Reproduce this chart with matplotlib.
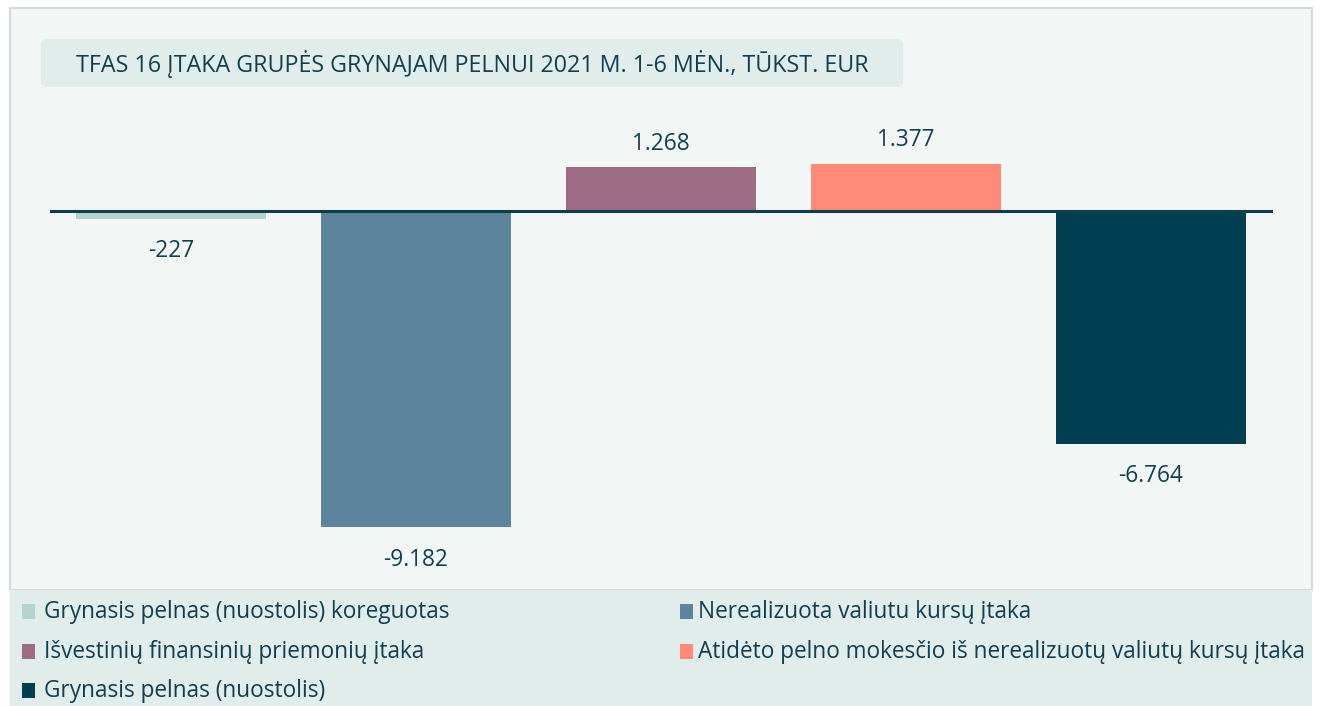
import matplotlib.pyplot as plt
from matplotlib.patches import Rectangle, FancyBboxPatch

# === Data ===
categories = [
    "Grynasis pelnas (nuostolis) koreguotas",
    "Nerealizuota valiutu kursų įtaka",
    "Išvestinių finansinių priemonių įtaka",
    "Atidėto pelno mokesčio iš nerealizuotų valiutų kursų įtaka",
    "Grynasis pelnas (nuostolis)",
]
values = [-227, -9182, 1268, 1377, -6764]
colors = ["#b2d4cc", "#5d849d", "#9e6c84", "#ff8a77", "#003f51"]
title = "TFAS 16 ĮTAKA GRUPĖS GRYNAJAM PELNUI 2021 M. 1-6 MĖN., TŪKST. EUR"

W, H = 1323, 706
txt_color = "#113f52"
plt.rcParams['font.family'] = ['Open Sans', 'DejaVu Sans']

fig = plt.figure(figsize=(W / 100, H / 100), dpi=100)
fig.patch.set_facecolor("white")


def fx(px):
    return px / W


def fy(py):
    return 1 - py / H


# === Panel backgrounds ===
fig.patches.append(Rectangle((fx(10), fy(590)), fx(1302), (590 - 8) / H,
                             transform=fig.transFigure, facecolor="#f2f6f5",
                             edgecolor="#d8d8d8", lw=1.5, zorder=-2))
fig.patches.append(Rectangle((fx(10), 0), fx(1302), (H - 590) / H,
                             transform=fig.transFigure, facecolor="#e1edeb",
                             edgecolor="none", zorder=-2))

# === Title box ===
fig.patches.append(FancyBboxPatch((fx(41), fy(87)), fx(862), 48 / H,
                                  boxstyle="round,pad=0,rounding_size=0.006",
                                  transform=fig.transFigure, facecolor="#e1edeb",
                                  edgecolor="none", zorder=-1))
fig.text(fx(76), fy(64), title, fontsize=16.75, color=txt_color, va="center", ha="left")

# === Bars ===
ax = fig.add_axes([fx(50), fy(580), fx(1223), 460 / H])
ax.set_zorder(2)
ax.patch.set_alpha(0)
x = list(range(len(values)))
ax.bar(x, values, width=0.776, color=colors, zorder=2)
ax.axhline(0, color="#0e3d4f", lw=2.2, zorder=3)
ax.set_xlim(-0.494, 4.498)
ax.set_ylim(-10722, 2644)
ax.axis("off")


def fmt(v):
    s = f"{abs(v):,}".replace(",", ".")
    return ("-" if v < 0 else "") + s


for xi, v in zip(x, values):
    off = 17 if v > 0 else -23.5
    ax.annotate(fmt(v), (xi, v), xytext=(0, off), textcoords="offset points",
                ha="center", va="center", fontsize=16.3, color=txt_color)

# === Legend ===
rows = [612, 652, 691]
cols = [(25, 44), (683, 698)]
for i, (lab, c) in enumerate(zip(categories, colors)):
    r, col = divmod(i, 2)
    mx, tx = cols[col]
    y = rows[r]
    fig.patches.append(Rectangle((fx(mx - 3), fy(y + 7)), fx(13), 15 / H,
                                 transform=fig.transFigure, facecolor=c,
                                 edgecolor="none", zorder=1))
    fig.text(fx(tx), fy(y), lab, fontsize=16.3, color=txt_color, va="center", ha="left")

plt.savefig("out.png", dpi=100)
